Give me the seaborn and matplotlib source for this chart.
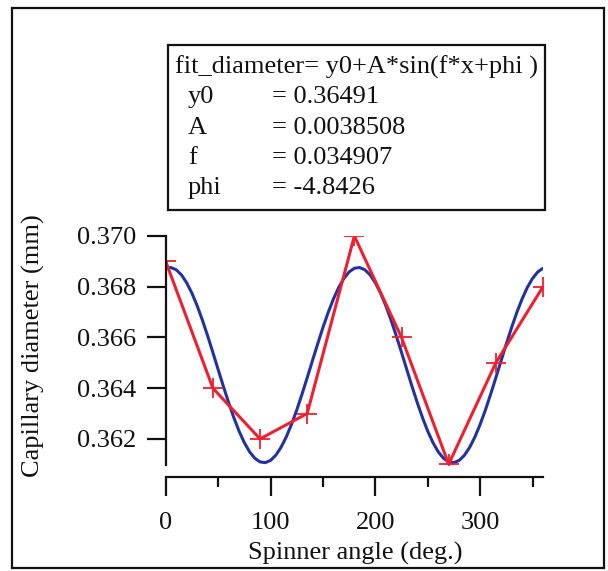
import matplotlib
matplotlib.use("Agg")
import matplotlib.pyplot as plt
from matplotlib.patches import Rectangle
from matplotlib.ticker import MultipleLocator
import seaborn as sns
import pandas as pd

# measured data
angles = [0, 45, 90, 135, 180, 225, 270, 315, 360]
diameters = [0.369, 0.364, 0.362, 0.363, 0.370, 0.366, 0.361, 0.365, 0.368]

# fitted curve (every 5 deg)
fit_angles = list(range(0, 361, 5))
fit_half = [0.368728, 0.368757, 0.368669, 0.368467, 0.368156, 0.367747, 0.367252,
            0.366686, 0.366065, 0.365410, 0.364739, 0.364074, 0.363434, 0.362839,
            0.362306, 0.361853, 0.361493, 0.361237, 0.361092, 0.361063, 0.361151,
            0.361353, 0.361664, 0.362073, 0.362568, 0.363134, 0.363755, 0.364410,
            0.365081, 0.365746, 0.366386, 0.366981, 0.367514, 0.367967, 0.368327,
            0.368583]
fit_values = fit_half + fit_half + [0.368728]

fit_title = "fit_diameter= y0+A*sin(f*x+phi )"
param_names = ["y0", "A", "f", "phi"]
param_values = ["0.36491", "0.0038508", "0.034907", "-4.8426"]

y_ticks = [0.362, 0.364, 0.366, 0.368, 0.370]
x_ticks = [0, 100, 200, 300]

sns.set_style("ticks")
plt.rcParams['font.family'] = ['Liberation Serif', 'DejaVu Serif']

W, H = 608, 571
FS = 19
INK = "#111111"
fig = plt.figure(figsize=(W / 100, H / 100), dpi=100)
fig.patch.set_facecolor("white")

def fx(px):
    return px / W

def fy(py):
    return 1 - py / H

ax_l, ax_r, ax_t, ax_b = 165.7, 543, 236, 465
ax = fig.add_axes([fx(ax_l), fy(ax_b), fx(ax_r) - fx(ax_l), fy(ax_t) - fy(ax_b)])
ax.set_facecolor("none")

df_fit = pd.DataFrame({"angle": fit_angles, "value": fit_values})
df_meas = pd.DataFrame({"angle": angles, "value": diameters})

sns.lineplot(data=df_fit, x="angle", y="value", ax=ax, color="#2233a0", lw=2.2)
sns.lineplot(data=df_meas, x="angle", y="value", ax=ax, color="#ec2030", lw=2.2,
             marker="+", markersize=15, markeredgewidth=1.3, markeredgecolor="#ec2030")

ax.set_xlim(0, 360)
ax.set_ylim(0.36097, 0.370)
ax.set_yticks(y_ticks)
ax.set_yticklabels([f"{v:.3f}" for v in y_ticks])
ax.set_xticks(x_ticks)
ax.set_xticklabels([str(v) for v in x_ticks])
ax.xaxis.set_minor_locator(MultipleLocator(50))

for s in ["top", "right"]:
    ax.spines[s].set_visible(False)
ax.spines["bottom"].set_position(("outward", 8.6))
for s in ["left", "bottom"]:
    ax.spines[s].set_linewidth(1.6)
    ax.spines[s].set_color(INK)

ax.tick_params(axis="both", which="major", direction="out", length=14, width=1.6,
               color=INK, labelsize=FS, labelcolor=INK)
ax.tick_params(axis="x", which="minor", direction="out", length=7, width=1.6, color=INK)
ax.tick_params(axis="y", which="major", pad=7)
ax.tick_params(axis="x", which="major", pad=11)

ax.set_xlabel("Spinner angle (deg.)", fontsize=FS, color=INK, va="center")
ax.set_ylabel("Capillary diameter (mm)", fontsize=FS, color=INK, va="center")
ax.xaxis.set_label_coords(0.502, (ax_b - 553) / (ax_b - ax_t))
ax.yaxis.set_label_coords((33 - ax_l) / (ax_r - ax_l), (ax_b - 346) / (ax_b - ax_t))

# outer frame
fig.patches.append(Rectangle((fx(12), fy(568)), fx(604) - fx(12), fy(8) - fy(568),
                             transform=fig.transFigure, fill=False, lw=1.6,
                             edgecolor=INK))

# fit parameter box
fig.patches.append(Rectangle((fx(168), fy(210)), fx(545) - fx(168), fy(45) - fy(210),
                             transform=fig.transFigure, fill=False, lw=1.6,
                             edgecolor=INK))
fig.text(fx(175), fy(67), fit_title, fontsize=FS, va="center", ha="left", color=INK)
line_y = [97, 128, 158, 188]
for name, val, yy in zip(param_names, param_values, line_y):
    fig.text(fx(188), fy(yy), name, fontsize=FS, va="center", ha="left", color=INK)
    fig.text(fx(272), fy(yy), "= " + val, fontsize=FS, va="center", ha="left", color=INK)

fig.savefig("out.png", dpi=100)
